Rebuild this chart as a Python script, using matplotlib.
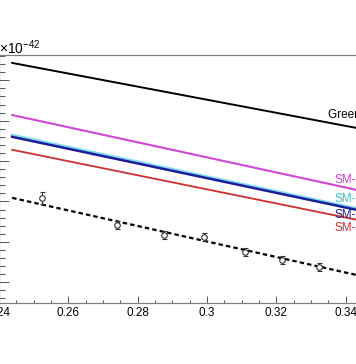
import numpy as np
import matplotlib
matplotlib.use('Agg')
import matplotlib.pyplot as plt
from matplotlib.ticker import MultipleLocator

plt.rcParams['font.family'] = ['Liberation Sans', 'DejaVu Sans']
plt.rcParams['mathtext.fontset'] = 'custom'
plt.rcParams['mathtext.rm'] = 'Liberation Sans'

# model curves: (x_start, x_end) and y at both ends, units of 1e-42
line_x = [0.2438, 0.35]
green_y = [6.43, 4.71]
sm_magenta_y = [5.14, 3.16]
sm_cyan_y = [4.64, 2.70]
sm_blue_y = [4.60, 2.67]
sm_red_y = [4.28, 2.43]
fit_y = [3.09, 1.05]

# measured points
data_x = [0.2523, 0.2741, 0.2876, 0.2992, 0.3110, 0.3218, 0.3324]
data_y = [3.09, 2.42, 2.16, 2.13, 1.76, 1.55, 1.39]
data_err = [0.14, 0.10, 0.10, 0.10, 0.10, 0.10, 0.10]

labels = ["Green's function", "SM-1", "SM-2", "SM-3", "SM-4"]
label_y = [5.14, 3.53, 3.06, 2.67, 2.34]

fig = plt.figure(figsize=(3.56, 3.64), dpi=100)
ax = fig.add_axes([-1/356, 61.3/364, 415.8/356, 247.7/364])

ax.plot(line_x, green_y, color='black', lw=1.4)
ax.plot(line_x, sm_magenta_y, color='#d048d8', lw=1.5)
ax.plot(line_x, sm_cyan_y, color='#7fdcec', lw=2.2)
ax.plot(line_x, sm_blue_y, color='#1c1c9c', lw=1.8)
ax.plot(line_x, sm_red_y, color='#cc3030', lw=1.3)
ax.plot(line_x, fit_y, color='black', lw=1.6, linestyle=(0, (2, 1.4)))

ax.errorbar(data_x, data_y, yerr=data_err, fmt='o', ms=4, mfc='white',
            mec='#333333', mew=0.8, ecolor='#333333', elinewidth=0.8,
            capsize=1.8, capthick=0.8, zorder=5)

# labels at the right, cut by the picture edge as in the original
label_colors = ['black', '#cc40cc', '#40c0c8', '#202090', '#cc3030']
label_x = [0.3349, 0.3367, 0.3367, 0.3367, 0.3367]
for i in range(len(labels)):
    ax.text(label_x[i], label_y[i], labels[i], color=label_colors[i],
            fontsize=8.5, va='center', ha='left', clip_on=False)

ax.set_xlim(0.24, 0.36)
ax.set_ylim(0.495, 6.626)
ax.xaxis.set_major_locator(MultipleLocator(0.02))
ax.xaxis.set_minor_locator(MultipleLocator(0.005))
ax.yaxis.set_major_locator(MultipleLocator(1))
ax.yaxis.set_minor_locator(MultipleLocator(0.2))
ax.set_xticks([0.24, 0.26, 0.28, 0.30, 0.32, 0.34, 0.36])
ax.set_xticklabels(['0.24', '0.26', '0.28', '0.3', '0.32', '0.34', '0.36'])

ax.tick_params(axis='x', which='major', direction='in', length=5, width=0.7,
               color='#555555', labelsize=8.5, pad=3)
ax.tick_params(axis='x', which='minor', direction='in', length=2.5, width=0.7,
               color='#555555')
ax.tick_params(axis='y', which='major', direction='in', length=7.5, width=0.7,
               color='#555555', labelleft=False)
ax.tick_params(axis='y', which='minor', direction='in', length=4, width=0.7,
               color='#555555')
for s in ax.spines.values():
    s.set_color('#808080')
    s.set_linewidth(0.9)

fig.text(-0.004, 1 - 48/364, r'$\times10^{-42}$', fontsize=10, ha='left',
         va='center')

fig.savefig('out.png', dpi=100)
